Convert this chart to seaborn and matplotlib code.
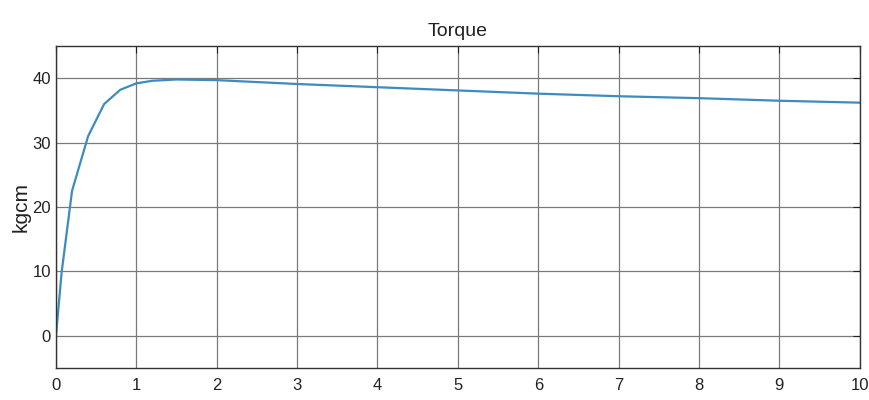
import pandas as pd
import matplotlib.pyplot as plt
import seaborn as sns

# Torque curve
time = [0, 0.07, 0.2, 0.4, 0.6, 0.8, 1.0, 1.2, 1.5, 2, 3, 4, 5, 6, 7, 8, 9, 10]
torque = [0, 9.8, 22.5, 31, 36, 38.2, 39.2, 39.6, 39.8, 39.7, 39.1, 38.6, 38.1, 37.6, 37.2, 36.9, 36.5, 36.2]
x_ticks = [0, 1, 2, 3, 4, 5, 6, 7, 8, 9, 10]
y_ticks = [0, 10, 20, 30, 40]

df = pd.DataFrame({'t': time, 'torque': torque})

sns.set_style("white")
plt.rcParams['font.family'] = ['Liberation Sans', 'DejaVu Sans']

fig = plt.figure(figsize=(8.69, 4), dpi=100)
ax = fig.add_axes([0.0644, 0.08, 0.925, 0.805])

sns.lineplot(data=df, x='t', y='torque', ax=ax, color='#3d8bc0', linewidth=1.6)

ax.set_xlim(0, 10)
ax.set_ylim(-5, 45)
ax.set_xticks(x_ticks)
ax.set_yticks(y_ticks)
ax.grid(True, color='#7a7a7a', linewidth=0.9)
ax.tick_params(direction='in', length=5, labelsize=12, colors='#222222',
               top=True, right=True)
ax.tick_params(axis='x', pad=7)
for s in ax.spines.values():
    s.set_color('#333333')
    s.set_linewidth(1.0)

ax.set_title('Torque', fontsize=14, color='#222222', pad=7)
ax.set_xlabel('')
ax.set_ylabel('kgcm', fontsize=15, color='#222222', labelpad=1)

plt.savefig('out.png', dpi=100)
